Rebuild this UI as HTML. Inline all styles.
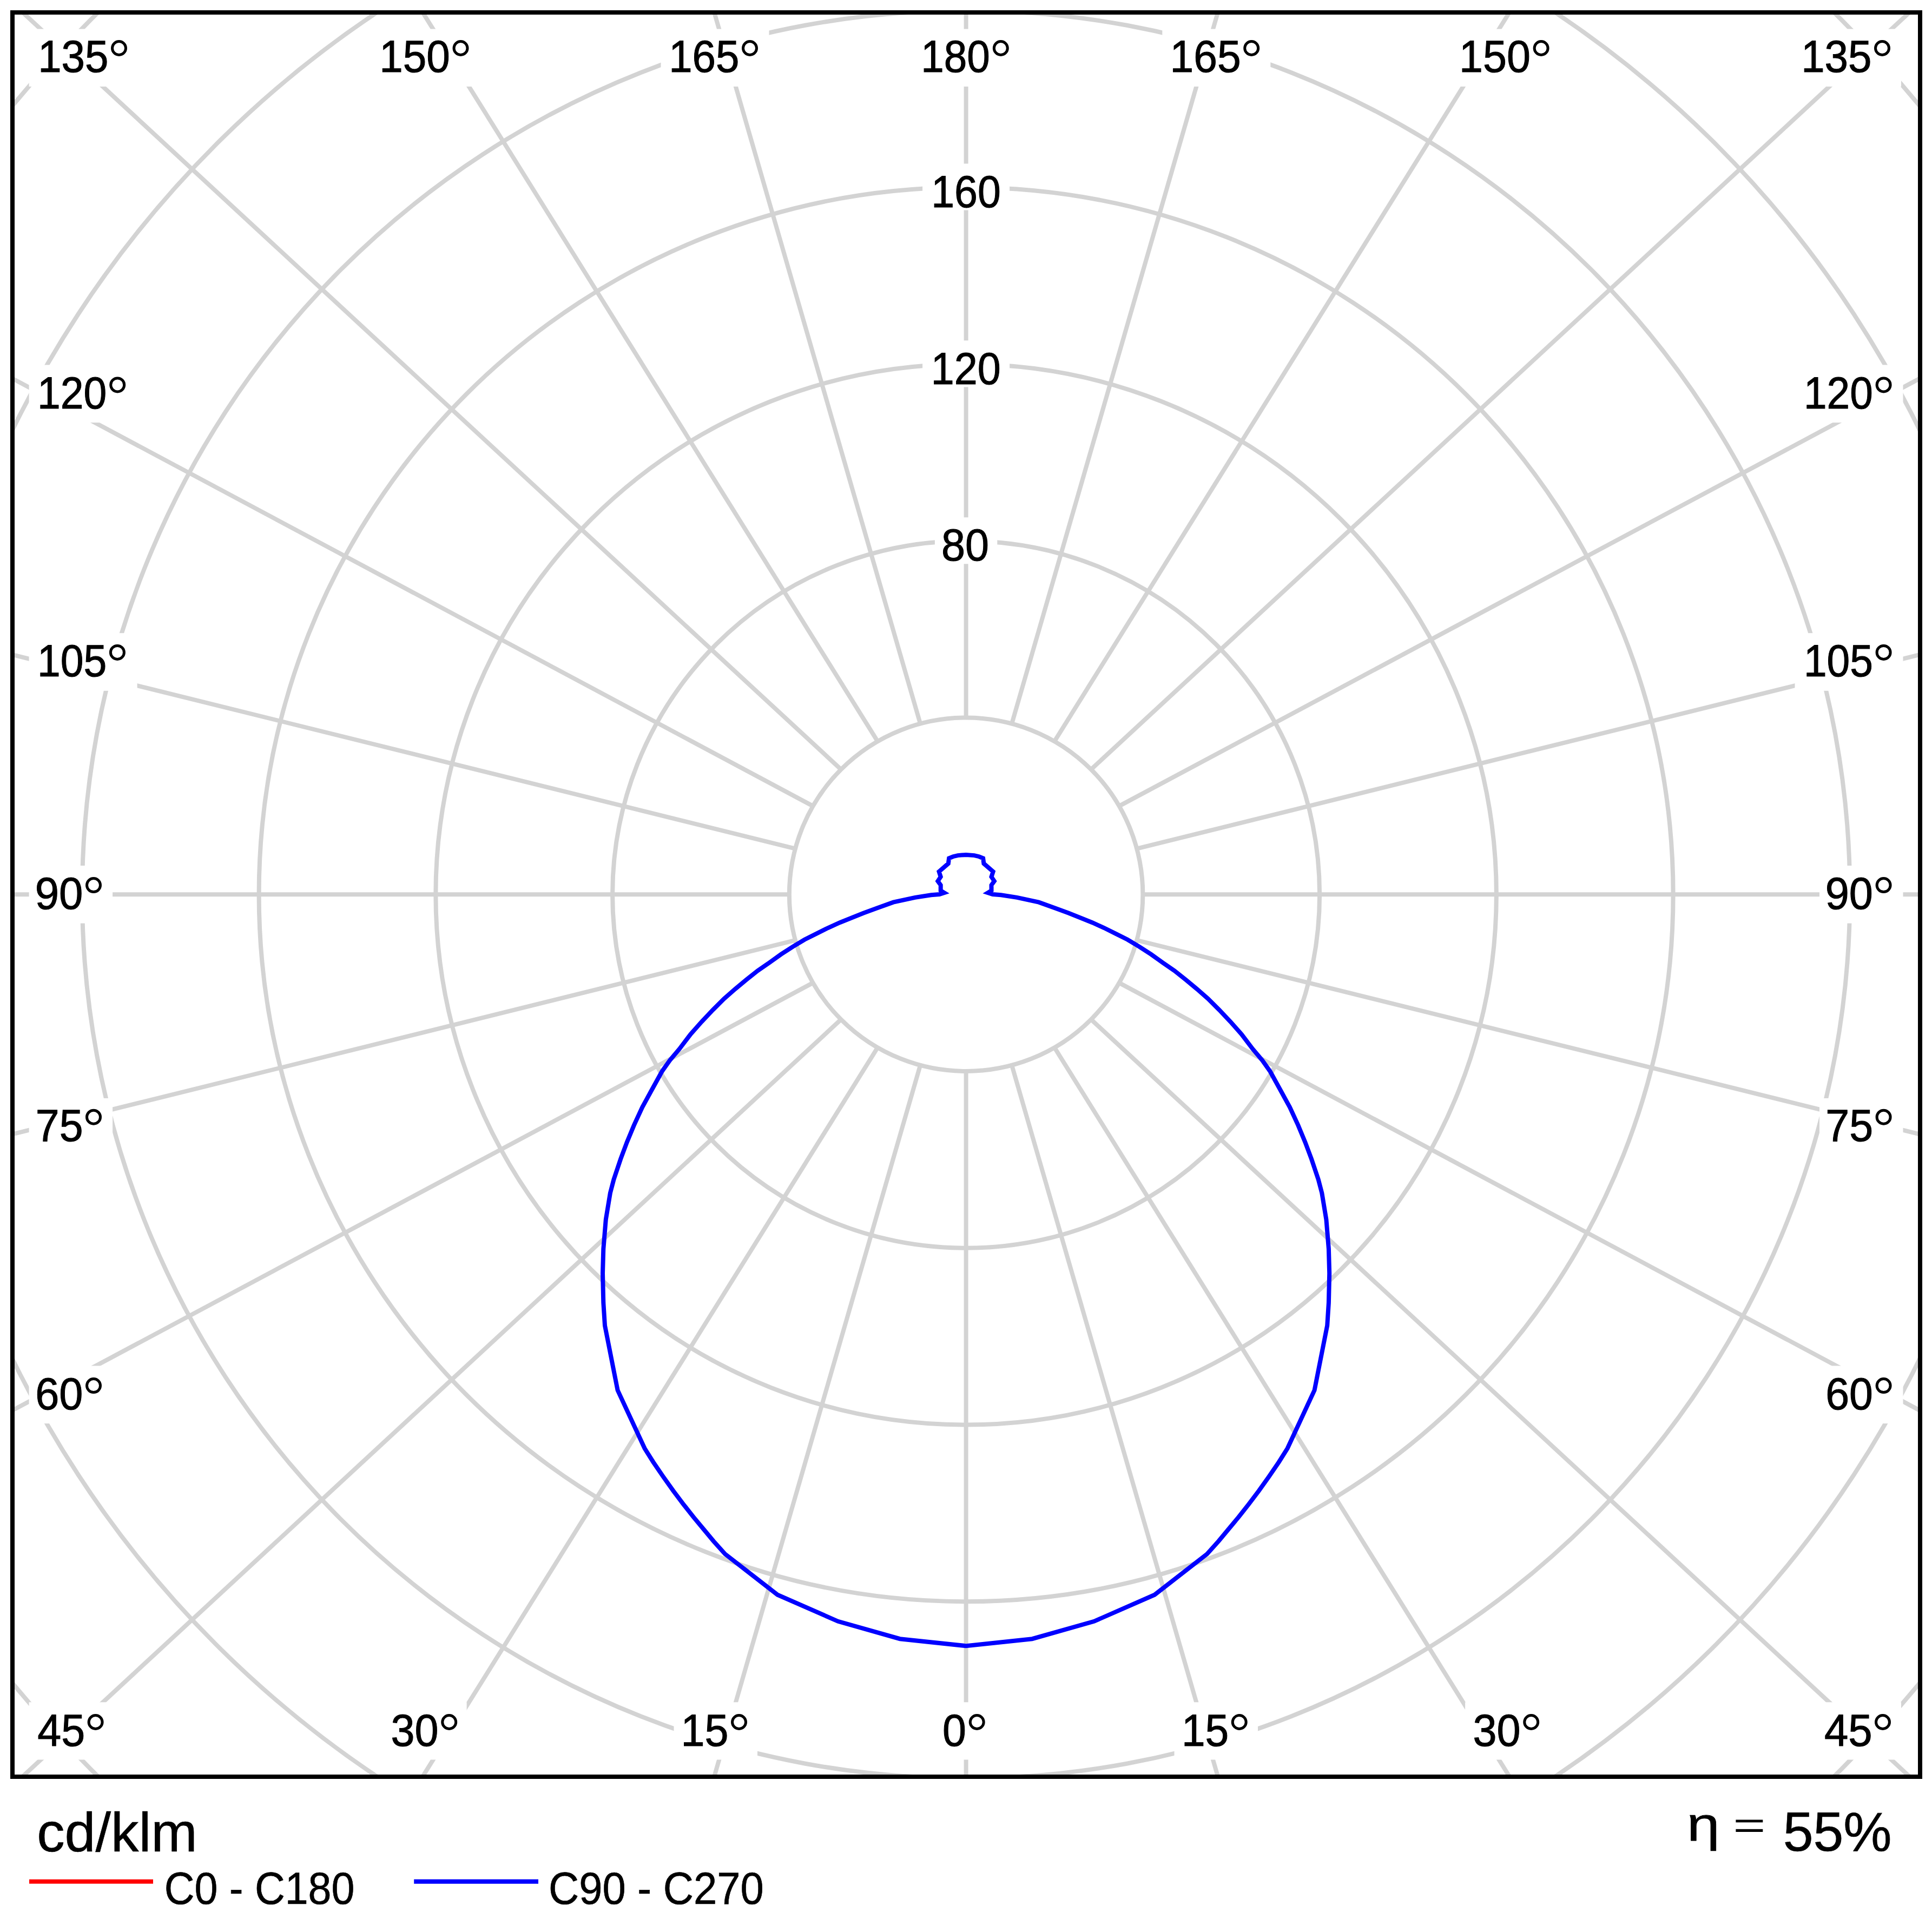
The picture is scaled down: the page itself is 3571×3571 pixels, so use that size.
<!DOCTYPE html><html><head><meta charset="utf-8"><style>html,body{margin:0;padding:0;background:#fff;}svg{display:block}</style></head><body>
<svg width="3571" height="3571" viewBox="0 0 3571 3571">
<defs><clipPath id="cp"><rect x="27" y="27" width="3518" height="3253"/></clipPath></defs>
<rect x="0" y="0" width="3571" height="3571" fill="#fff"/>
<g clip-path="url(#cp)" fill="none" stroke="#d3d3d3" stroke-width="8"><circle cx="1785.6" cy="1653.25" r="326.75"/><circle cx="1785.6" cy="1653.25" r="653.50"/><circle cx="1785.6" cy="1653.25" r="980.25"/><circle cx="1785.6" cy="1653.25" r="1307.00"/><circle cx="1785.6" cy="1653.25" r="1633.75"/><circle cx="1785.6" cy="1653.25" r="1960.50"/><circle cx="1785.6" cy="1653.25" r="2287.25"/><line x1="1785.60" y1="1980.00" x2="1785.60" y2="7530.00"/><line x1="1870.17" y1="1968.87" x2="3423.08" y2="7329.75"/><line x1="1948.97" y1="1936.22" x2="4948.97" y2="6742.66"/><line x1="2016.65" y1="1884.30" x2="6259.29" y2="5808.74"/><line x1="2068.57" y1="1816.62" x2="7264.73" y2="4591.62"/><line x1="2101.22" y1="1737.82" x2="7896.77" y2="3174.26"/><line x1="2112.35" y1="1653.25" x2="8112.35" y2="1653.25"/><line x1="2101.22" y1="1568.68" x2="7896.77" y2="132.24"/><line x1="2068.57" y1="1489.88" x2="7264.73" y2="-1285.12"/><line x1="2016.65" y1="1422.20" x2="6259.29" y2="-2502.24"/><line x1="1948.97" y1="1370.28" x2="4948.97" y2="-3436.16"/><line x1="1870.17" y1="1337.63" x2="3423.08" y2="-4023.25"/><line x1="1785.60" y1="1326.50" x2="1785.60" y2="-4223.50"/><line x1="1701.03" y1="1337.63" x2="148.12" y2="-4023.25"/><line x1="1622.22" y1="1370.28" x2="-1377.78" y2="-3436.16"/><line x1="1554.55" y1="1422.20" x2="-2688.09" y2="-2502.24"/><line x1="1502.63" y1="1489.87" x2="-3693.53" y2="-1285.13"/><line x1="1469.98" y1="1568.68" x2="-4325.57" y2="132.24"/><line x1="1458.85" y1="1653.25" x2="-4541.15" y2="1653.25"/><line x1="1469.98" y1="1737.82" x2="-4325.57" y2="3174.26"/><line x1="1502.63" y1="1816.62" x2="-3693.53" y2="4591.62"/><line x1="1554.55" y1="1884.30" x2="-2688.09" y2="5808.74"/><line x1="1622.22" y1="1936.22" x2="-1377.78" y2="6742.66"/><line x1="1701.03" y1="1968.87" x2="148.12" y2="7329.75"/></g>
<g fill="#fff"><rect x="53.6" y="53.6" width="200.0" height="106.4"/><rect x="686.8" y="53.6" width="200.0" height="106.4"/><rect x="1221.5" y="53.6" width="200.0" height="106.4"/><rect x="1686.4" y="53.6" width="200.0" height="106.4"/><rect x="2148.3" y="53.6" width="200.0" height="106.4"/><rect x="2683.3" y="53.6" width="200.0" height="106.4"/><rect x="3314.0" y="53.6" width="200.0" height="106.4"/><rect x="53.6" y="674.5" width="200.0" height="106.6"/><rect x="53.6" y="1170.2" width="200.0" height="106.6"/><rect x="53.6" y="1600.0" width="154.5" height="106.6"/><rect x="53.6" y="2029.9" width="154.5" height="106.6"/><rect x="53.6" y="2524.5" width="154.5" height="106.6"/><rect x="3317.5" y="674.5" width="200.0" height="106.6"/><rect x="3317.5" y="1170.2" width="200.0" height="106.6"/><rect x="3363.0" y="1600.0" width="154.5" height="106.6"/><rect x="3363.0" y="2029.9" width="154.5" height="106.6"/><rect x="3363.0" y="2524.5" width="154.5" height="106.6"/><rect x="53.6" y="3146.3" width="154.5" height="106.2"/><rect x="708.1" y="3146.3" width="154.5" height="106.2"/><rect x="1245.5" y="3146.3" width="154.5" height="106.2"/><rect x="1728.5" y="3146.3" width="109.0" height="106.2"/><rect x="2170.5" y="3146.3" width="154.5" height="106.2"/><rect x="2708.1" y="3146.3" width="154.5" height="106.2"/><rect x="3359.5" y="3146.3" width="154.5" height="106.2"/><rect x="1705.1" y="302.5" width="161.0" height="86.0"/><rect x="1705.1" y="629.4" width="161.0" height="86.0"/><rect x="1727.9" y="956.3" width="115.4" height="86.0"/></g>
<path d="M1785.6,3042.2 L1663.4,3029.2 L1549.0,2996.8 L1437.1,2947.7 L1340.2,2872.4 L1319.1,2848.8 L1300.4,2826.4 L1281.8,2804.0 L1263.2,2780.4 L1244.5,2755.6 L1225.9,2729.5 L1207.3,2702.2 L1191.5,2677.0 L1141.6,2569.6 L1118.0,2450.0 L1115.3,2408.0 L1114.0,2353.6 L1115.3,2308.3 L1119.8,2254.0 L1127.9,2205.1 L1134.5,2180.0 L1147.2,2142.2 L1158.8,2111.1 L1171.7,2080.1 L1187.3,2046.4 L1202.8,2018.0 L1223.5,1980.5 L1238.0,1960.0 L1255.6,1939.1 L1276.5,1911.5 L1297.0,1888.4 L1317.7,1866.6 L1338.4,1845.9 L1359.1,1827.8 L1379.8,1810.7 L1400.5,1794.2 L1421.5,1779.7 L1443.6,1763.9 L1465.3,1749.8 L1487.1,1736.7 L1508.8,1725.9 L1530.6,1715.0 L1552.3,1705.2 L1574.0,1696.5 L1595.8,1687.8 L1621.0,1678.6 L1651.1,1667.7 L1691.5,1658.9 L1721.1,1654.2 L1736.5,1653.0 L1745.3,1650.1 L1738.7,1646.1 L1738.7,1636.0 L1733.4,1628.6 L1738.7,1620.7 L1735.6,1611.0 L1752.8,1596.1 L1754.1,1586.4 L1761.6,1583.2 L1770.4,1581.1 L1785.6,1579.9 L1800.8,1581.1 L1809.6,1583.2 L1817.1,1586.4 L1818.4,1596.1 L1835.6,1611.0 L1832.5,1620.7 L1837.8,1628.6 L1832.5,1636.0 L1832.5,1646.1 L1825.9,1650.1 L1834.7,1653.0 L1850.1,1654.2 L1879.7,1658.9 L1920.1,1667.7 L1950.2,1678.6 L1975.4,1687.8 L1997.2,1696.5 L2018.9,1705.2 L2040.6,1715.0 L2062.4,1725.9 L2084.1,1736.7 L2105.9,1749.8 L2127.6,1763.9 L2149.7,1779.7 L2170.7,1794.2 L2191.4,1810.7 L2212.1,1827.8 L2232.8,1845.9 L2253.5,1866.6 L2274.2,1888.4 L2294.7,1911.5 L2315.6,1939.1 L2333.2,1960.0 L2347.7,1980.5 L2368.4,2018.0 L2383.9,2046.4 L2399.5,2080.1 L2412.4,2111.1 L2424.0,2142.2 L2436.7,2180.0 L2443.3,2205.1 L2451.4,2254.0 L2455.9,2308.3 L2457.2,2353.6 L2455.9,2408.0 L2453.2,2450.0 L2429.6,2569.6 L2379.7,2677.0 L2363.9,2702.2 L2345.3,2729.5 L2326.7,2755.6 L2308.0,2780.4 L2289.4,2804.0 L2270.8,2826.4 L2252.1,2848.8 L2231.0,2872.4 L2134.1,2947.7 L2022.2,2996.8 L1907.8,3029.2 Z" fill="none" stroke="#0000ff" stroke-width="8" stroke-linejoin="miter" stroke-miterlimit="10"/>
<g font-family="Liberation Sans" fill="#000" stroke="#000" stroke-width="1.1"><text transform="translate(70.14,132.90) scale(0.9294,1)" font-size="84">135</text><text transform="translate(701.13,132.90) scale(0.9317,1)" font-size="84">150</text><text transform="translate(1236.14,132.90) scale(0.9294,1)" font-size="84">165</text><text transform="translate(1702.26,132.90) scale(0.9110,1)" font-size="84">180</text><text transform="translate(2162.61,132.90) scale(0.9347,1)" font-size="84">165</text><text transform="translate(2697.08,132.90) scale(0.9401,1)" font-size="84">150</text><text transform="translate(3329.14,132.90) scale(0.9294,1)" font-size="84">135</text><text transform="translate(68.93,755.30) scale(0.9164,1)" font-size="84">120</text><text transform="translate(68.93,1249.80) scale(0.9156,1)" font-size="84">105</text><text transform="translate(64.71,1680.00) scale(0.9489,1)" font-size="84">90</text><text transform="translate(65.86,2108.60) scale(0.9383,1)" font-size="84">75</text><text transform="translate(65.13,2605.00) scale(0.9442,1)" font-size="84">60</text><text transform="translate(3333.96,755.30) scale(0.9118,1)" font-size="84">120</text><text transform="translate(3333.95,1249.80) scale(0.9133,1)" font-size="84">105</text><text transform="translate(3373.73,1680.00) scale(0.9443,1)" font-size="84">90</text><text transform="translate(3374.36,2108.60) scale(0.9395,1)" font-size="84">75</text><text transform="translate(3374.26,2605.00) scale(0.9384,1)" font-size="84">60</text><text transform="translate(69.22,3226.90) scale(0.9410,1)" font-size="84">45</text><text transform="translate(722.53,3226.90) scale(0.9420,1)" font-size="84">30</text><text transform="translate(1258.57,3226.90) scale(0.9416,1)" font-size="84">15</text><text transform="translate(1742.04,3226.90) scale(0.9399,1)" font-size="84">0</text><text transform="translate(2183.91,3226.90) scale(0.9344,1)" font-size="84">15</text><text transform="translate(2722.53,3226.90) scale(0.9420,1)" font-size="84">30</text><text transform="translate(3371.91,3226.90) scale(0.9490,1)" font-size="84">45</text><text transform="translate(1721.22,382.50) scale(0.9172,1)" font-size="84">160</text><text transform="translate(1720.80,709.70) scale(0.9202,1)" font-size="84">120</text><text transform="translate(1739.94,1035.90) scale(0.9420,1)" font-size="84">80</text></g>
<g fill="none" stroke="#000" stroke-width="5"><circle cx="220.00" cy="89.00" r="12.50"/><circle cx="851.50" cy="89.00" r="12.50"/><circle cx="1386.00" cy="89.00" r="12.50"/><circle cx="1849.80" cy="89.00" r="12.50"/><circle cx="2313.20" cy="89.00" r="12.50"/><circle cx="2848.60" cy="89.00" r="12.50"/><circle cx="3479.00" cy="89.00" r="12.50"/><circle cx="217.20" cy="711.40" r="12.50"/><circle cx="216.90" cy="1205.90" r="12.50"/><circle cx="173.00" cy="1636.10" r="12.50"/><circle cx="173.00" cy="2064.70" r="12.50"/><circle cx="173.00" cy="2561.10" r="12.50"/><circle cx="3481.60" cy="711.40" r="12.50"/><circle cx="3481.60" cy="1205.90" r="12.50"/><circle cx="3481.60" cy="1636.10" r="12.50"/><circle cx="3481.60" cy="2064.70" r="12.50"/><circle cx="3481.60" cy="2561.10" r="12.50"/><circle cx="176.60" cy="3183.00" r="12.50"/><circle cx="830.20" cy="3183.00" r="12.50"/><circle cx="1366.00" cy="3183.00" r="12.50"/><circle cx="1805.70" cy="3183.00" r="12.50"/><circle cx="2290.70" cy="3183.00" r="12.50"/><circle cx="2830.20" cy="3183.00" r="12.50"/><circle cx="3480.00" cy="3183.00" r="12.50"/></g>
<rect x="23" y="23" width="3526" height="3261" fill="none" stroke="#000" stroke-width="8"/>
<g font-family="Liberation Sans" fill="#000" stroke="#000" stroke-width="0.7"><text transform="translate(68.14,3421.50) scale(1.0068,1)" font-size="102">cd/klm</text><text transform="translate(3295.68,3421.40) scale(0.9768,1)" font-size="102.8">55%</text><text transform="translate(303.64,3518.50) scale(0.9191,1)" font-size="84">C0 - C180</text><text transform="translate(1014.11,3518.50) scale(0.9256,1)" font-size="84">C90 - C270</text><text transform="translate(3118.06,3402.62) scale(1.2333,1)" font-size="88.59">η</text></g>
<rect x="3208.4" y="3363.5" width="49.9" height="4.9" fill="#000"/><rect x="3208.4" y="3380.8" width="49.9" height="5.2" fill="#000"/>
<rect x="54" y="3473.7" width="229" height="8" fill="#ff0000"/>
<rect x="765.2" y="3473.6" width="229.8" height="8.2" fill="#0000ff"/>
</svg></body></html>
